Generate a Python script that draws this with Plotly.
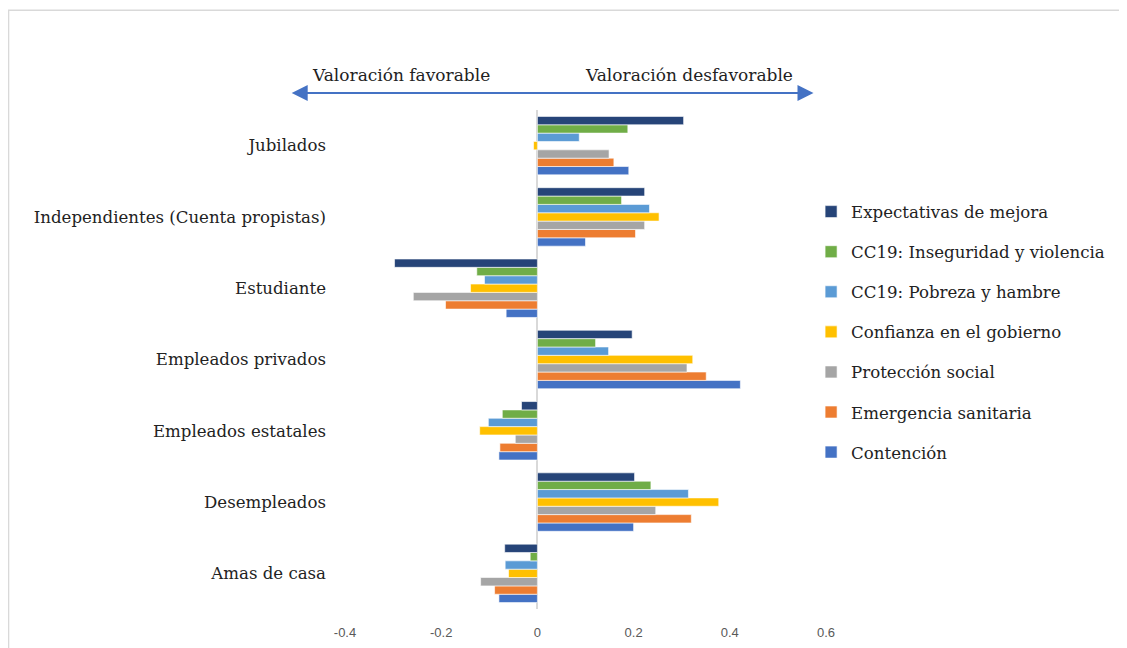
import plotly.graph_objects as go

categories = ["Jubilados", "Independientes (Cuenta propistas)", "Estudiante",
              "Empleados privados", "Empleados estatales", "Desempleados", "Amas de casa"]

series_names = ["Expectativas de mejora", "CC19: Inseguridad y violencia",
                "CC19: Pobreza y hambre", "Confianza en el gobierno",
                "Protección social", "Emergencia sanitaria", "Contención"]

expectativas = [0.304, 0.223, -0.297, 0.197, -0.033, 0.202, -0.068]
inseguridad = [0.188, 0.175, -0.126, 0.121, -0.073, 0.236, -0.015]
pobreza = [0.087, 0.233, -0.110, 0.148, -0.102, 0.314, -0.067]
confianza = [-0.008, 0.253, -0.139, 0.323, -0.120, 0.377, -0.060]
proteccion = [0.149, 0.223, -0.258, 0.311, -0.046, 0.246, -0.118]
emergencia = [0.159, 0.204, -0.191, 0.351, -0.078, 0.320, -0.089]
contencion = [0.190, 0.100, -0.065, 0.422, -0.080, 0.200, -0.080]

x_ticks = [-0.4, -0.2, 0, 0.2, 0.4, 0.6]
x_tick_labels = ["-0.4", "-0.2", "0", "0.2", "0.4", "0.6"]

colors = ["#264478", "#70AD47", "#5B9BD5", "#FFC000", "#A5A5A5", "#ED7D31", "#4472C4"]
values = [expectativas, inseguridad, pobreza, confianza, proteccion, emergencia, contencion]

SERIF = "DejaVu Serif, Liberation Serif, serif"

fig = go.Figure()
# add from bottom (Contención) to top (Expectativas) so the group order matches
items = list(zip(series_names, values, colors))
for rank in range(len(items) - 1, -1, -1):
    name, vals, col = items[rank]
    fig.add_trace(go.Bar(
        y=categories, x=vals, name=name, orientation="h",
        marker=dict(color=col, line=dict(color="white", width=0.6)),
        legendgroup=name, legendrank=rank + 1,
    ))

fig.update_layout(
    width=1119, height=640,
    barmode="group", bargap=0.18, bargroupgap=0,
    plot_bgcolor="white", paper_bgcolor="white",
    margin=dict(l=337, r=301, t=102, b=39),
    showlegend=True,
    legend=dict(
        x=0.969, xanchor="left", y=0.831, yanchor="top",
        traceorder="grouped", tracegroupgap=15.5,
        font=dict(family=SERIF, size=16.6, color="#222222"),
        itemwidth=30,
        bgcolor="rgba(0,0,0,0)",
    ),
    xaxis=dict(
        range=[-0.4, 0.6], tickvals=x_ticks, ticktext=x_tick_labels,
        showgrid=False, zeroline=True, zerolinecolor="#D9D9D9", zerolinewidth=2,
        showline=False, ticks="", ticklabelstandoff=14, automargin=False,
        tickfont=dict(family="Liberation Sans, Arial, sans-serif", size=13, color="#595959"),
    ),
    yaxis=dict(
        categoryorder="array", categoryarray=list(reversed(categories)),
        showgrid=False, showline=False, ticks="", zeroline=False,
        ticklabelstandoff=18, automargin=False,
        tickfont=dict(family=SERIF, size=16.6, color="#222222"),
    ),
)

# outer chart border (left and top edges visible)
fig.add_shape(type="rect", xref="paper", yref="paper",
              x0=-0.6995, x1=2.0, y0=-0.3, y1=1.2,
              line=dict(color="#D9D9D9", width=1.5), fillcolor="rgba(0,0,0,0)")

# double-headed arrow
fig.add_annotation(x=0.574, y=1.034, xref="x", yref="paper",
                   ax=-0.514, ay=0, axref="x", ayref="pixel",
                   showarrow=True, arrowside="end+start", arrowhead=2,
                   arrowsize=1.6, arrowwidth=2, arrowcolor="#4472C4", text="")
fig.add_annotation(x=-0.283, y=1.07, xref="x", yref="paper", yanchor="middle",
                   text="Valoración favorable", showarrow=False,
                   font=dict(family=SERIF, size=17, color="#222222"))
fig.add_annotation(x=0.315, y=1.07, xref="x", yref="paper", yanchor="middle",
                   text="Valoración desfavorable", showarrow=False,
                   font=dict(family=SERIF, size=17, color="#222222"))

fig.write_html("out.html")
